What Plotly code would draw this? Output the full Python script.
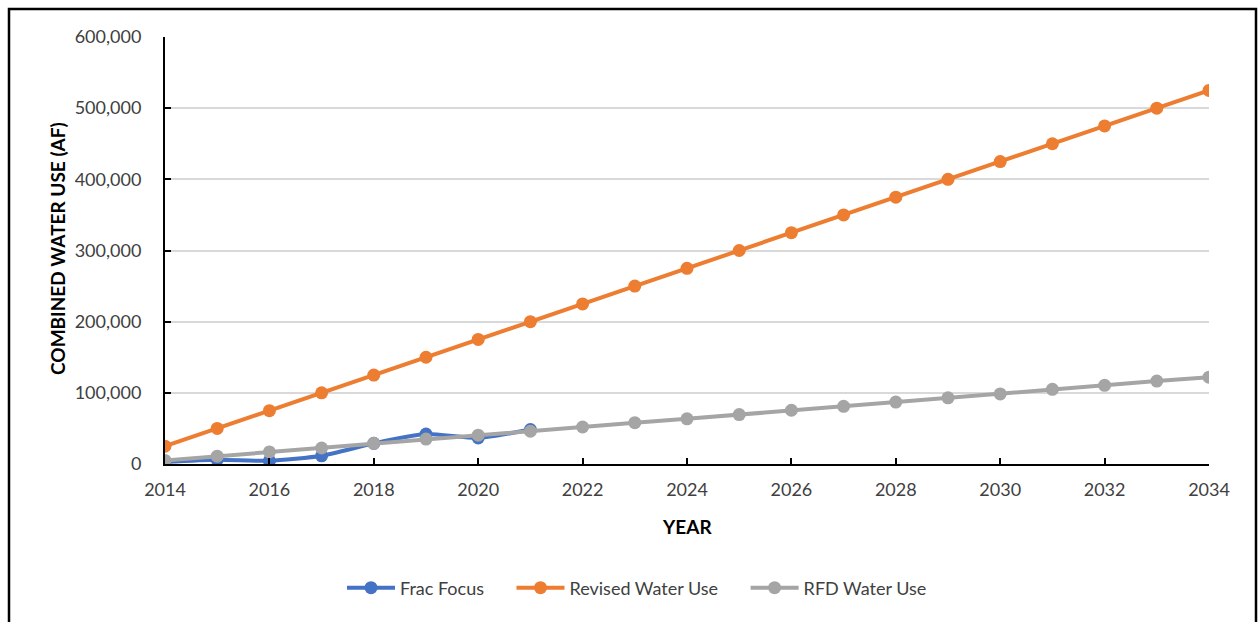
import plotly.graph_objects as go

# Annual combined water use (acre-feet)
years = list(range(2014, 2035))
frac_focus_years = list(range(2014, 2022))
frac_focus = [3000, 6000, 4500, 11500, 29000, 42000, 36500, 48500]
revised_water_use = [25000, 50000, 75000, 100000, 125000, 150000, 175000, 200000,
                     225000, 250000, 275000, 300000, 325000, 350000, 375000, 400000,
                     425000, 450000, 475000, 500000, 525000]
rfd_water_use = [5000, 11000, 17000, 22500, 29000, 35000, 40500, 46000,
                 52000, 58000, 63500, 69500, 75500, 81000, 87000, 93000,
                 98500, 105000, 110500, 116500, 122000]

y_ticks = [0, 100000, 200000, 300000, 400000, 500000, 600000]
x_ticks = list(range(2014, 2035, 2))

FONT = "Lato, 'Liberation Sans', sans-serif"
TEXT = "#404040"
GAP = "\u2003\u2002"  # extra spacing between legend entries

fig = go.Figure()

fig.add_trace(go.Scatter(
    x=frac_focus_years, y=frac_focus, name="Frac Focus" + GAP,
    mode="lines+markers", line=dict(color="#4472C4", width=4, shape="spline", smoothing=0.6),
    marker=dict(size=13, color="#4472C4"),
))
fig.add_trace(go.Scatter(
    x=years, y=revised_water_use, name="Revised Water Use" + GAP,
    mode="lines+markers", line=dict(color="#ED7D31", width=4),
    marker=dict(size=13, color="#ED7D31"),
))
fig.add_trace(go.Scatter(
    x=years, y=rfd_water_use, name="RFD Water Use",
    mode="lines+markers", line=dict(color="#A5A5A5", width=4),
    marker=dict(size=13, color="#A5A5A5"),
))

L, R, T, B = 165, 50, 37, 158
W, H = 1259, 622
pw, ph = W - L - R, H - T - B

def px_x(px):
    return (px - L) / pw

def px_y(py):
    return (H - B - py) / ph

fig.update_layout(
    width=W, height=H,
    margin=dict(l=L, r=R, t=T, b=B),
    paper_bgcolor="white", plot_bgcolor="white",
    font=dict(family=FONT, size=18, color=TEXT),
    showlegend=True,
    legend=dict(orientation="h", x=px_x(637), y=px_y(588), xanchor="center", yanchor="middle",
                font=dict(size=18, color=TEXT), itemwidth=48, tracegroupgap=0,
                traceorder="normal"),
    xaxis=dict(range=[2014, 2034], tickvals=x_ticks, ticktext=[str(v) for v in x_ticks],
               showgrid=False, zeroline=False, showline=True, linecolor="black", linewidth=2,
               ticks="inside", ticklen=6, tickwidth=1.5, tickcolor="black",
               tickfont=dict(size=18, color=TEXT), ticklabelstandoff=8),
    yaxis=dict(range=[0, 600000], tickvals=y_ticks,
               ticktext=[f"{v:,}" for v in y_ticks],
               showgrid=True, gridcolor="#D9D9D9", gridwidth=1.5, zeroline=False,
               showline=True, linecolor="black", linewidth=2,
               ticks="inside", ticklen=6, tickwidth=1.5, tickcolor="black",
               tickfont=dict(size=18, color=TEXT), ticklabelstandoff=18),
    annotations=[
        dict(text="<b>COMBINED WATER USE (AF)</b>", textangle=-90, xref="paper", yref="paper",
             x=px_x(57), y=px_y(249), xanchor="center", yanchor="middle",
             showarrow=False, font=dict(size=19, color="black")),
        dict(text="<b>YEAR</b>", xref="paper", yref="paper", x=px_x(687), y=px_y(526),
             xanchor="center", yanchor="middle",
             showarrow=False, font=dict(size=19, color="black")),
    ],
    shapes=[
        dict(type="rect", xref="paper", yref="paper",
             x0=px_x(9), x1=px_x(1256), y0=px_y(640), y1=px_y(9),
             line=dict(color="black", width=2.5), layer="below"),
    ],
)

fig.write_html("out.html")
